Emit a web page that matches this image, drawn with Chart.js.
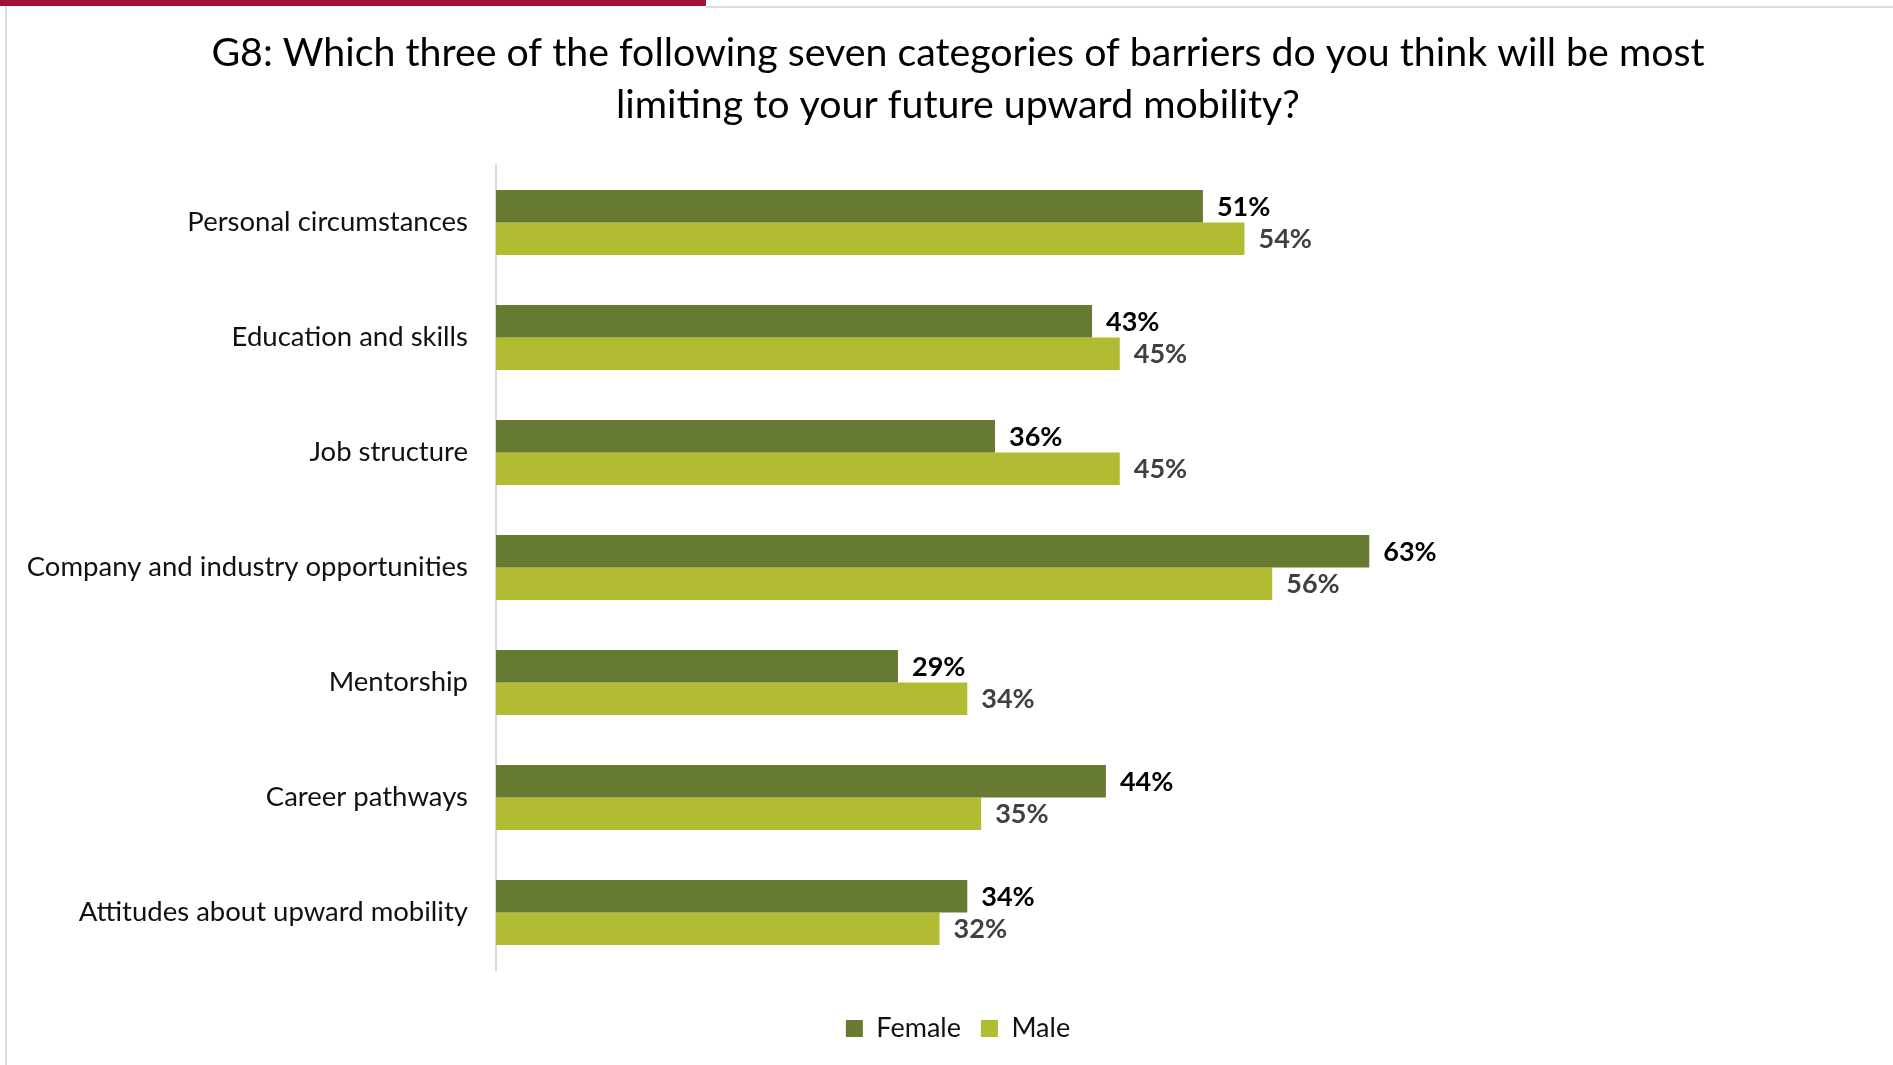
<!DOCTYPE html>
<html>
<head>
<meta charset="utf-8">
<script src="https://cdn.jsdelivr.net/npm/chart.js@4.4.1/dist/chart.umd.min.js"></script>
<style>
  html, body { margin: 0; padding: 0; background: #ffffff; overflow: hidden; }
  #wrap { position: absolute; left: 0; top: 0; width: 1893px; height: 1065px; overflow: hidden; }
  #redbar { position: absolute; left: 0; top: 0; width: 706px; height: 6px; background: #a51234; }
  #topline { position: absolute; left: 706px; top: 6px; width: 1187px; height: 2px; background: #dcdcdc; }
  #leftline { position: absolute; left: 5px; top: 6px; width: 2px; height: 1059px; background: #dcdcdc; }
  canvas { position: absolute; left: 0; top: 0; }
</style>
</head>
<body>
<div id="wrap">
  <canvas id="c" width="1920" height="1065"></canvas>
  <div id="redbar"></div>
  <div id="topline"></div>
  <div id="leftline"></div>
</div>
<script>
const titleLines = [
  "G8: Which three of the following seven categories of barriers do you think will be most",
  "limiting to your future upward mobility?"
];
const categories = [
  "Personal circumstances",
  "Education and skills",
  "Job structure",
  "Company and industry opportunities",
  "Mentorship",
  "Career pathways",
  "Attitudes about upward mobility"
];
const seriesNames = ["Female", "Male"];
const femaleValues = [51, 43, 36, 63, 29, 44, 34];
const maleValues = [54, 45, 45, 56, 34, 35, 32];

const FONT = "Lato, 'Open Sans', sans-serif";
const colors = { Female: "#667a31", Male: "#b2bc33" };
const labelColors = { Female: "#000000", Male: "#404040" };

const valueLabels = {
  id: "valueLabels",
  afterDatasetsDraw(chart) {
    const ctx = chart.ctx;
    ctx.save();
    ctx.font = "bold 27px " + FONT;
    ctx.textBaseline = "middle";
    ctx.textAlign = "left";
    chart.data.datasets.forEach((ds, i) => {
      const meta = chart.getDatasetMeta(i);
      ctx.fillStyle = labelColors[ds.label];
      meta.data.forEach((el, j) => {
        ctx.fillText(ds.data[j] + "%", el.x + 14, el.y + 1);
      });
    });
    ctx.restore();
  }
};

new Chart(document.getElementById("c"), {
  type: "bar",
  data: {
    labels: categories,
    datasets: [
      { label: seriesNames[0], data: femaleValues, backgroundColor: colors.Female },
      { label: seriesNames[1], data: maleValues, backgroundColor: colors.Male }
    ]
  },
  options: {
    indexAxis: "y",
    responsive: false,
    animation: false,
    devicePixelRatio: 1,
    layout: { padding: { left: 20, right: 24, top: 0, bottom: 13 } },
    datasets: { bar: { barPercentage: 1.0, categoryPercentage: 0.565 } },
    scales: {
      x: {
        display: true, min: 0, max: 101,
        grid: { display: false, drawTicks: false },
        border: { display: false },
        ticks: { display: false },
        afterFit(scale) { scale.height = 25; }
      },
      y: {
        grid: { display: false, drawTicks: false },
        border: { display: true, color: "#d9d9d9", width: 2 },
        ticks: { color: "#111111", font: { family: FONT, size: 27.5 }, padding: 28 },
        afterFit(scale) { scale.width = 476; }
      }
    },
    plugins: {
      tooltip: { enabled: false },
      title: {
        display: true,
        text: titleLines,
        color: "#000000",
        font: { family: FONT, size: 39.3, weight: "normal", lineHeight: "52px" },
        padding: { top: 27, bottom: 34 }
      },
      legend: {
        display: true,
        position: "bottom",
        labels: {
          color: "#111111",
          font: { family: FONT, size: 27 },
          boxWidth: 17,
          boxHeight: 17,
          padding: 20
        }
      }
    }
  },
  plugins: [valueLabels]
});
</script>
</body>
</html>
